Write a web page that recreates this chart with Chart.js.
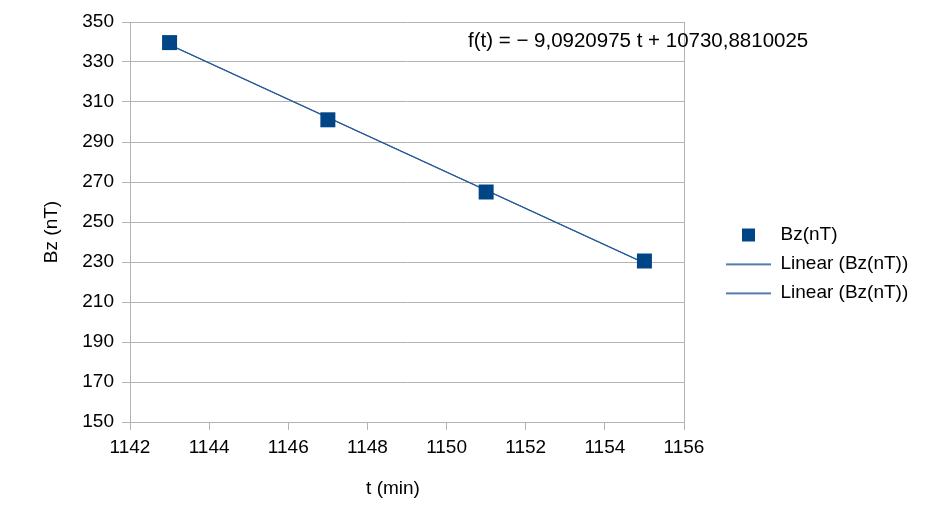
<!DOCTYPE html>
<html><head><meta charset="utf-8">
<script src="https://cdn.jsdelivr.net/npm/chart.js@4/dist/chart.umd.min.js"></script>
<style>html,body{margin:0;padding:0;background:#fff}</style>
</head><body>
<canvas id="c" width="936" height="528"></canvas>
<script>
const tValues = [1143, 1147, 1151, 1155];
const bzValues = [339.7, 301.1, 265.0, 230.5];
const xTickValues = [1142, 1144, 1146, 1148, 1150, 1152, 1154, 1156];
const yTickValues = [150, 170, 190, 210, 230, 250, 270, 290, 310, 330, 350];
const trendSlope = -9.0920975;
const trendIntercept = 10730.8810025;
const seriesLabel = 'Bz(nT)';
const trendLabels = ['Linear (Bz(nT))', 'Linear (Bz(nT))'];
const equationText = 'f(t) = \u2212 9,0920975 t + 10730,8810025';
const xTitle = 't (min)';
const yTitle = 'Bz (nT)';

const FONT = "'Liberation Sans', Arial, sans-serif";
const BLUE = '#004586';
const LINE = '#2a5c9a';
const GRID = '#b3b3b3';

const trendPoints = [tValues[0], tValues[tValues.length - 1]].map(t => ({x: t, y: trendSlope * t + trendIntercept}));

function makeIcon(kind) {
  const c = document.createElement('canvas');
  c.width = 77; c.height = 19;
  const g = c.getContext('2d');
  if (kind === 'square') { g.fillStyle = BLUE; g.fillRect(48, 3, 13, 13); }
  else { g.fillStyle = LINE; g.fillRect(32, 9, 45, 1.6); }
  return c;
}
const sqIcon = makeIcon('square');
const lineIcon = makeIcon('line');

const mc = document.createElement('canvas').getContext('2d');
mc.font = '19px ' + FONT;
const legendTextW = Math.max(...[seriesLabel, ...trendLabels].map(s => mc.measureText(s).width));
const legendW = 20 + 77 + 19 / 2 + legendTextW;
const rightPad = Math.max(0, 936 - 684 - legendW);

Chart.defaults.font.family = FONT;
Chart.defaults.color = '#000';

const textPlugin = {
  id: 'texts',
  afterDraw(chart) {
    const g = chart.ctx;
    g.save();
    g.fillStyle = '#000';
    g.textBaseline = 'alphabetic';
    g.textAlign = 'left';
    g.font = '20.5px ' + FONT;
    g.fillText(equationText, 468, 47);
    g.font = '19px ' + FONT;
    g.textAlign = 'center';
    g.fillText(xTitle, 393, 494);
    g.translate(56.5, 232);
    g.rotate(-Math.PI / 2);
    g.fillText(yTitle, 0, 0);
    g.restore();
  }
};

new Chart(document.getElementById('c'), {
  type: 'scatter',
  data: {
    datasets: [
      { label: seriesLabel, data: tValues.map((t, i) => ({x: t, y: bzValues[i]})),
        pointStyle: 'rect', pointRadius: 10.6, pointHoverRadius: 10.6,
        backgroundColor: BLUE, borderColor: BLUE, borderWidth: 0, showLine: false },
      { type: 'line', label: trendLabels[0], data: trendPoints, borderColor: LINE, borderWidth: 1.2,
        pointRadius: 0, fill: false, tension: 0 },
      { type: 'line', label: trendLabels[1], data: trendPoints, borderColor: LINE, borderWidth: 1.2,
        pointRadius: 0, fill: false, tension: 0 }
    ]
  },
  options: {
    responsive: false, animation: false, events: [],
    layout: { padding: { left: 80, top: 22, right: rightPad, bottom: 22 } },
    scales: {
      x: {
        type: 'linear', position: 'bottom', min: 1142, max: 1156,
        afterBuildTicks: s => { s.ticks = xTickValues.map(v => ({value: v})); },
        afterFit: s => { s.height = 84; },
        grid: { color: c => (c.tick && c.tick.value === 1156) ? GRID : 'rgba(0,0,0,0)', tickColor: GRID, tickLength: 8, lineWidth: 1 },
        border: { color: GRID, width: 1 },
        ticks: { color: '#000', font: {size: 19}, padding: 6, maxRotation: 0, autoSkip: false, callback: v => String(v) }
      },
      y: {
        type: 'linear', min: 150, max: 350,
        afterBuildTicks: s => { s.ticks = yTickValues.map(v => ({value: v})); },
        afterFit: s => { s.width = 50; },
        grid: { color: GRID, tickColor: GRID, tickLength: 8, lineWidth: 1 },
        border: { color: GRID, width: 1 },
        ticks: { color: '#000', font: {size: 19}, padding: 8, autoSkip: false, callback: v => String(v) }
      }
    },
    plugins: {
      tooltip: { enabled: false },
      legend: {
        position: 'right', align: 'center', maxWidth: 400,
        labels: {
          usePointStyle: true, pointStyleWidth: 77, boxHeight: 19, padding: 10,
          color: '#000', font: {size: 19},
          generateLabels: chart => chart.data.datasets.map((ds, i) => ({
            text: ds.label, pointStyle: i === 0 ? sqIcon : lineIcon, datasetIndex: i,
            hidden: false, lineWidth: 0, fillStyle: BLUE, strokeStyle: BLUE, fontColor: '#000'
          }))
        }
      }
    }
  },
  plugins: [textPlugin]
});
</script>
</body></html>
